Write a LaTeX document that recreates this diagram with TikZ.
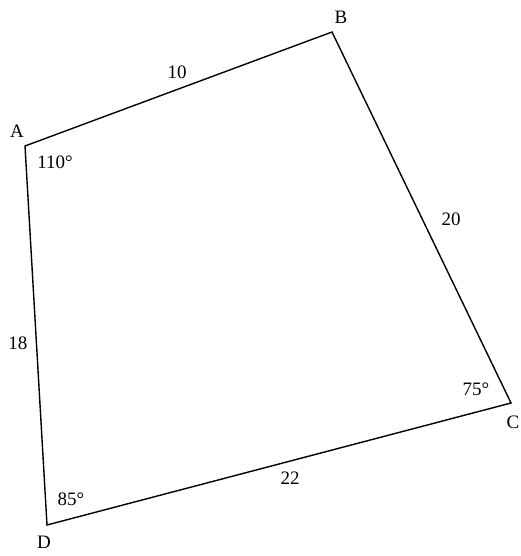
\documentclass[tikz,border=0pt]{standalone}
\usepackage{fontspec}
\setmainfont{Liberation Serif}
\begin{document}
\begin{tikzpicture}[x=1pt, y=-1pt, font=\fontsize{19}{22}\selectfont,
    lbl/.style={inner sep=1pt}]
    \useasboundingbox (0,0) rectangle (520,556);
    % Corners
    \coordinate (A) at (25,146);
    \coordinate (B) at (332,32);
    \coordinate (C) at (511,403);
    \coordinate (D) at (47,525);
    \draw[line width=1.4pt, line join=miter] (A) -- (B) -- (C) -- (D) -- cycle;

    % Vertex labels
    \node[lbl] (la) at (17,131) {A};
    \node[lbl] (lb) at (341,17) {B};
    \node[lbl] (lc) at (513,422) {C};
    \node[lbl] (ld) at (44,542) {D};

    % Side lengths
    \node[lbl] (ab) at (177,72) {10};
    \node[lbl] (bc) at (451,219) {20};
    \node[lbl] (ad) at (18,343) {18};
    \node[lbl] (cd) at (290,478) {22};

    % Angles
    \node[lbl] (angA) at (55,162) {110°};
    \node[lbl] (angC) at (476,389) {75°};
    \node[lbl] (angD) at (71,499) {85°};
\end{tikzpicture}
\end{document}
